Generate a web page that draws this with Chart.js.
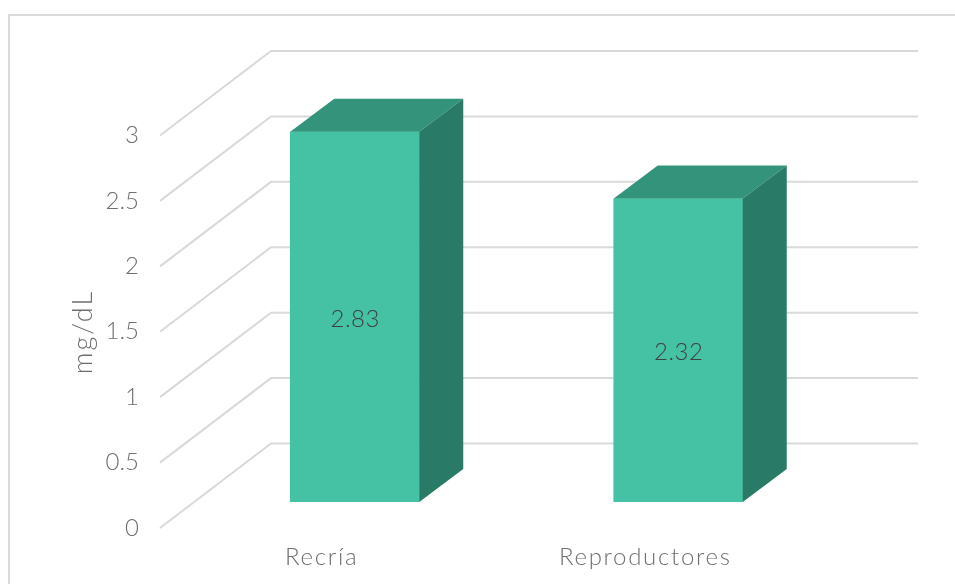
<!DOCTYPE html>
<html>
<head>
<meta charset="utf-8">
<script src="https://cdn.jsdelivr.net/npm/chart.js@4"></script>
<style>
    html, body { margin: 0; padding: 0; background: #fff; overflow: hidden; }
    canvas { display: block; }
</style>
</head>
<body>
<canvas id="chart" width="955" height="584"></canvas>
<script>
// ===== Data =====
const categories = ['Recría', 'Reproductores'];
const values = [2.83, 2.32];
const yTickLabels = ['0', '0.5', '1', '1.5', '2', '2.5', '3'];
const yTitle = 'mg/dL';

// ===== Look =====
const FONT = 'Lato, sans-serif';
const TEXT_GREY = '#6f6f6f';
const GRID_GREY = '#d9d9d9';
const BAR_FRONT = '#45c2a4';
const BAR_TOP = '#33937b';
const BAR_SIDE = '#297a66';

// Projection offsets, relative to the plane the bars stand on
const BAR_DEPTH = { x: 44, y: 33 };
const WALL_FRONT = { x: -33, y: 26 };
const WALL_BACK = { x: 78, y: -58.5 };

const polygon = (ctx, pts, fill) => {
    ctx.beginPath();
    pts.forEach(([x, y], i) => (i ? ctx.lineTo(x, y) : ctx.moveTo(x, y)));
    ctx.closePath();
    ctx.fillStyle = fill;
    ctx.fill();
};

// Outer frame and the side wall / back wall grid
const wallPlugin = {
    id: 'wall',
    // category labels are drawn in the first layer, they need wider tracking
    beforeDraw(chart) {
        chart.ctx.letterSpacing = '1.7px';
    },
    beforeDatasetsDraw(chart) {
        const { ctx, chartArea, scales: { y } } = chart;
        ctx.letterSpacing = '0px';
        ctx.save();
        ctx.strokeStyle = GRID_GREY;
        ctx.lineWidth = 2;
        ctx.beginPath();
        ctx.moveTo(955, 15);
        ctx.lineTo(9, 15);
        ctx.lineTo(9, 584);
        ctx.stroke();

        y.ticks.forEach(t => {
            const py = y.getPixelForValue(t.value);
            ctx.beginPath();
            ctx.moveTo(chartArea.left + WALL_FRONT.x, py + WALL_FRONT.y);
            ctx.lineTo(chartArea.left + WALL_BACK.x, py + WALL_BACK.y);
            ctx.lineTo(chartArea.right + WALL_BACK.x, py + WALL_BACK.y);
            ctx.stroke();
        });
        ctx.restore();
    }
};

// Top and side faces of each bar, value label, rotated axis title
const boxPlugin = {
    id: 'box',
    afterDatasetsDraw(chart) {
        const { ctx } = chart;
        const d = BAR_DEPTH;
        ctx.save();
        chart.getDatasetMeta(0).data.forEach((bar, i) => {
            const left = bar.x - bar.width / 2;
            const right = bar.x + bar.width / 2;
            polygon(ctx, [[left, bar.y], [left + d.x, bar.y - d.y], [right + d.x, bar.y - d.y], [right, bar.y]], BAR_TOP);
            polygon(ctx, [[right, bar.y], [right + d.x, bar.y - d.y], [right + d.x, bar.base - d.y], [right, bar.base]], BAR_SIDE);

            ctx.fillStyle = '#404040';
            ctx.font = '300 24px ' + FONT;
            ctx.letterSpacing = '0.5px';
            ctx.textAlign = 'center';
            ctx.textBaseline = 'middle';
            ctx.fillText(values[i].toFixed(2), bar.x + 0.5, (bar.y + bar.base) / 2 + 2);
        });

        ctx.translate(83, 332);
        ctx.rotate(-Math.PI / 2);
        ctx.fillStyle = TEXT_GREY;
        ctx.font = '300 27px ' + FONT;
        ctx.letterSpacing = '2px';
        ctx.textAlign = 'center';
        ctx.textBaseline = 'middle';
        ctx.fillText(yTitle, 0, 0);
        ctx.restore();
    }
};

new Chart(document.getElementById('chart').getContext('2d'), {
    type: 'bar',
    data: {
        labels: categories,
        datasets: [{
            data: values,
            backgroundColor: BAR_FRONT,
            barThickness: 129,
            borderWidth: 0
        }]
    },
    options: {
        responsive: false,
        animation: false,
        layout: { padding: { top: 109.5, right: 115, left: 0, bottom: 0 } },
        plugins: { legend: { display: false }, tooltip: { enabled: false } },
        scales: {
            x: {
                grid: { display: false },
                border: { display: false },
                afterFit: s => { s.height = 82; },
                ticks: {
                    color: TEXT_GREY,
                    font: { family: FONT, size: 24, weight: '300' },
                    padding: 33,
                    labelOffset: -33,
                    maxRotation: 0,
                    autoSkip: false
                }
            },
            y: {
                min: 0,
                max: 3,
                grid: { display: false },
                border: { display: false },
                afterFit: s => { s.width = 193; },
                ticks: {
                    z: 1,
                    stepSize: 0.5,
                    color: TEXT_GREY,
                    font: { family: FONT, size: 24, weight: '300' },
                    padding: 46,
                    labelOffset: 26,
                    callback: (v, i) => yTickLabels[i]
                }
            }
        }
    },
    plugins: [wallPlugin, boxPlugin]
});
</script>
</body>
</html>
